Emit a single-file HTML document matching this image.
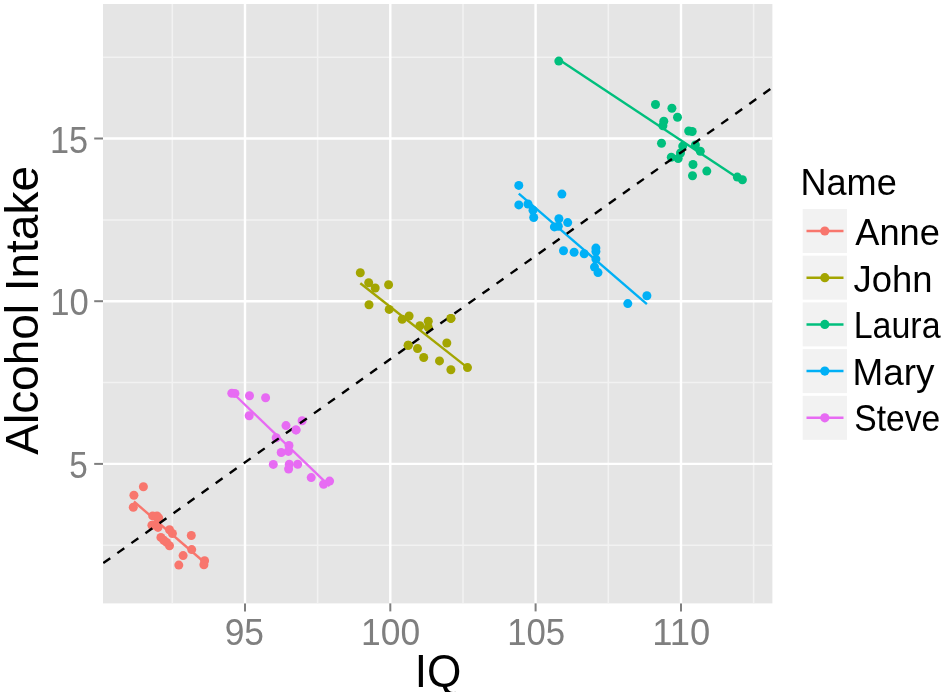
<!DOCTYPE html>
<html lang="en"><head><meta charset="utf-8"><title>Alcohol Intake vs IQ</title>
<style>html,body{margin:0;padding:0;background:#fff}svg{display:block}text{font-family:"Liberation Sans",sans-serif}</style></head><body>
<svg width="945" height="697" viewBox="0 0 945 697">
<rect width="945" height="697" fill="#fff"/>
<rect x="103.0" y="4.0" width="669.4" height="599.4" fill="#e5e5e5"/>
<defs><clipPath id="pc"><rect x="103.0" y="4.0" width="669.4" height="599.4"/></clipPath></defs>
<defs><clipPath id="qc"><rect x="400" y="640" width="80" height="52"/></clipPath></defs>
<g clip-path="url(#pc)">
<g stroke="#f2f2f2" stroke-width="1.5">
<line x1="172.3" x2="172.3" y1="4.0" y2="603.4"/>
<line x1="317.6" x2="317.6" y1="4.0" y2="603.4"/>
<line x1="463.0" x2="463.0" y1="4.0" y2="603.4"/>
<line x1="608.3" x2="608.3" y1="4.0" y2="603.4"/>
<line x1="753.6" x2="753.6" y1="4.0" y2="603.4"/>
<line y1="545.2" y2="545.2" x1="103.0" x2="772.4"/>
<line y1="382.5" y2="382.5" x1="103.0" x2="772.4"/>
<line y1="219.9" y2="219.9" x1="103.0" x2="772.4"/>
<line y1="57.2" y2="57.2" x1="103.0" x2="772.4"/>
</g>
<g stroke="#fff" stroke-width="2.4">
<line x1="245.0" x2="245.0" y1="4.0" y2="603.4"/>
<line x1="390.3" x2="390.3" y1="4.0" y2="603.4"/>
<line x1="535.6" x2="535.6" y1="4.0" y2="603.4"/>
<line x1="681.0" x2="681.0" y1="4.0" y2="603.4"/>
<line y1="463.9" y2="463.9" x1="103.0" x2="772.4"/>
<line y1="301.2" y2="301.2" x1="103.0" x2="772.4"/>
<line y1="138.5" y2="138.5" x1="103.0" x2="772.4"/>
</g>
<line x1="133.9" y1="501.5" x2="204.6" y2="562.5" stroke="#F8766D" stroke-width="2.4"/>
<g fill="#F8766D"><circle cx="143.4" cy="486.8" r="4.5"/><circle cx="133.9" cy="495.2" r="4.5"/><circle cx="133.3" cy="507.3" r="4.5"/><circle cx="152.7" cy="515.9" r="4.5"/><circle cx="157.0" cy="515.9" r="4.5"/><circle cx="158.7" cy="518" r="4.5"/><circle cx="151.9" cy="525.2" r="4.5"/><circle cx="155.9" cy="524.5" r="4.5"/><circle cx="158" cy="527.4" r="4.5"/><circle cx="169.5" cy="529.8" r="4.5"/><circle cx="172.4" cy="533.5" r="4.5"/><circle cx="160.9" cy="537.4" r="4.5"/><circle cx="163.8" cy="540.3" r="4.5"/><circle cx="166.6" cy="542.4" r="4.5"/><circle cx="169.5" cy="545.7" r="4.5"/><circle cx="191.3" cy="535.5" r="4.5"/><circle cx="191.7" cy="549.6" r="4.5"/><circle cx="183.1" cy="555.6" r="4.5"/><circle cx="178.8" cy="565.1" r="4.5"/><circle cx="204.6" cy="560.7" r="4.5"/><circle cx="203.9" cy="564.7" r="4.5"/></g>
<line x1="360.3" y1="283.3" x2="467.5" y2="367.6" stroke="#A3A500" stroke-width="2.4"/>
<g fill="#A3A500"><circle cx="360.3" cy="272.7" r="4.5"/><circle cx="368.7" cy="282.8" r="4.5"/><circle cx="375.2" cy="288.0" r="4.5"/><circle cx="388.6" cy="284.8" r="4.5"/><circle cx="369.0" cy="304.8" r="4.5"/><circle cx="389.2" cy="309.4" r="4.5"/><circle cx="402.2" cy="319.3" r="4.5"/><circle cx="409.1" cy="316.0" r="4.5"/><circle cx="419.9" cy="325.8" r="4.5"/><circle cx="428.3" cy="321.2" r="4.5"/><circle cx="428.3" cy="327.5" r="4.5"/><circle cx="450.9" cy="318.4" r="4.5"/><circle cx="408.2" cy="345.2" r="4.5"/><circle cx="417.5" cy="348.6" r="4.5"/><circle cx="423.7" cy="357.5" r="4.5"/><circle cx="446.8" cy="343.0" r="4.5"/><circle cx="439.5" cy="360.9" r="4.5"/><circle cx="450.9" cy="369.7" r="4.5"/><circle cx="467.5" cy="367.6" r="4.5"/></g>
<line x1="558.8" y1="59.5" x2="742.4" y2="181.0" stroke="#00BF7D" stroke-width="2.4"/>
<g fill="#00BF7D"><circle cx="558.8" cy="61.1" r="4.5"/><circle cx="655.5" cy="104.5" r="4.5"/><circle cx="671.9" cy="108.2" r="4.5"/><circle cx="677.5" cy="117.2" r="4.5"/><circle cx="663.8" cy="121.2" r="4.5"/><circle cx="662.9" cy="125.8" r="4.5"/><circle cx="688.7" cy="131.0" r="4.5"/><circle cx="692.2" cy="131.5" r="4.5"/><circle cx="661.5" cy="143.2" r="4.5"/><circle cx="682.7" cy="146.1" r="4.5"/><circle cx="695.4" cy="144.9" r="4.5"/><circle cx="680.5" cy="153.0" r="4.5"/><circle cx="700.3" cy="151.3" r="4.5"/><circle cx="671.3" cy="157.3" r="4.5"/><circle cx="678.2" cy="158.5" r="4.5"/><circle cx="693.0" cy="164.5" r="4.5"/><circle cx="692.5" cy="175.7" r="4.5"/><circle cx="706.8" cy="171.1" r="4.5"/><circle cx="737.3" cy="177.1" r="4.5"/><circle cx="742.4" cy="179.7" r="4.5"/></g>
<line x1="518.8" y1="193.6" x2="646.9" y2="304.2" stroke="#00B0F6" stroke-width="2.4"/>
<g fill="#00B0F6"><circle cx="518.8" cy="185.4" r="4.5"/><circle cx="518.8" cy="204.9" r="4.5"/><circle cx="528.0" cy="204.0" r="4.5"/><circle cx="533.0" cy="210.2" r="4.5"/><circle cx="533.7" cy="217.5" r="4.5"/><circle cx="561.9" cy="194.1" r="4.5"/><circle cx="558.9" cy="218.7" r="4.5"/><circle cx="567.7" cy="222.6" r="4.5"/><circle cx="554.4" cy="226.9" r="4.5"/><circle cx="558.3" cy="226.2" r="4.5"/><circle cx="563.5" cy="250.8" r="4.5"/><circle cx="574.1" cy="252.2" r="4.5"/><circle cx="584.2" cy="253.8" r="4.5"/><circle cx="595.9" cy="248.1" r="4.5"/><circle cx="595.9" cy="251.5" r="4.5"/><circle cx="595.9" cy="259.1" r="4.5"/><circle cx="594.5" cy="267.1" r="4.5"/><circle cx="598.0" cy="272.6" r="4.5"/><circle cx="627.8" cy="303.6" r="4.5"/><circle cx="646.9" cy="295.8" r="4.5"/></g>
<line x1="231.8" y1="392.0" x2="329.6" y2="486.2" stroke="#E76BF3" stroke-width="2.4"/>
<g fill="#E76BF3"><circle cx="231.8" cy="393.3" r="4.5"/><circle cx="234.9" cy="393.4" r="4.5"/><circle cx="249.5" cy="395.8" r="4.5"/><circle cx="265.6" cy="397.7" r="4.5"/><circle cx="249.2" cy="415.8" r="4.5"/><circle cx="286.0" cy="425.6" r="4.5"/><circle cx="302.1" cy="420.8" r="4.5"/><circle cx="296.0" cy="429.9" r="4.5"/><circle cx="276.2" cy="437.7" r="4.5"/><circle cx="289.0" cy="445.5" r="4.5"/><circle cx="288.4" cy="451.4" r="4.5"/><circle cx="281.2" cy="452.5" r="4.5"/><circle cx="273.3" cy="464.4" r="4.5"/><circle cx="289.3" cy="464.3" r="4.5"/><circle cx="297.7" cy="464.3" r="4.5"/><circle cx="288.6" cy="469.0" r="4.5"/><circle cx="311.2" cy="477.6" r="4.5"/><circle cx="323.6" cy="484.2" r="4.5"/><circle cx="329.6" cy="481.1" r="4.5"/></g>
<line x1="103.3" y1="563.1" x2="772.3" y2="87.6" stroke="#000" stroke-width="2.4" stroke-dasharray="8.5 8.73"/>
<circle cx="450.9" cy="318.4" r="4.5" fill="#A3A500"/>
<circle cx="408.2" cy="345.2" r="4.5" fill="#A3A500"/>
<circle cx="296.0" cy="429.9" r="4.5" fill="#E76BF3"/>
</g>
<g stroke="#7f7f7f" stroke-width="2">
<line x1="245.0" x2="245.0" y1="603.4" y2="611.4"/>
<line x1="390.3" x2="390.3" y1="603.4" y2="611.4"/>
<line x1="535.6" x2="535.6" y1="603.4" y2="611.4"/>
<line x1="681.0" x2="681.0" y1="603.4" y2="611.4"/>
<line y1="463.9" y2="463.9" x1="94.2" x2="103.0"/>
<line y1="301.2" y2="301.2" x1="94.2" x2="103.0"/>
<line y1="138.5" y2="138.5" x1="94.2" x2="103.0"/>
</g>
<text x="224.68" y="645.3" font-size="36" fill="#7f7f7f" textLength="39.34" lengthAdjust="spacingAndGlyphs">95</text>
<text x="361.09" y="645.3" font-size="36" fill="#7f7f7f" textLength="59.11" lengthAdjust="spacingAndGlyphs">100</text>
<text x="507.14" y="645.3" font-size="36" fill="#7f7f7f" textLength="58.08" lengthAdjust="spacingAndGlyphs">105</text>
<text x="652.32" y="645.3" font-size="36" fill="#7f7f7f" textLength="58.00" lengthAdjust="spacingAndGlyphs">110</text>
<text x="69.21" y="477.6" font-size="36" fill="#7f7f7f" textLength="18.50" lengthAdjust="spacingAndGlyphs">5</text>
<text x="50.25" y="314.9" font-size="36" fill="#7f7f7f" textLength="38.53" lengthAdjust="spacingAndGlyphs">10</text>
<text x="49.88" y="152.5" font-size="36" fill="#7f7f7f" textLength="38.09" lengthAdjust="spacingAndGlyphs">15</text>
<text x="414.71" y="687.0" font-size="47" fill="#000" textLength="46.62" lengthAdjust="spacingAndGlyphs" clip-path="url(#qc)">IQ</text>
<text x="-0.24" y="0.0" font-size="47" fill="#000" textLength="288.70" lengthAdjust="spacingAndGlyphs" transform="translate(38.4,454.5) rotate(-90)">Alcohol Intake</text>
<text x="800.39" y="195.1" font-size="36" fill="#000" textLength="96.35" lengthAdjust="spacingAndGlyphs">Name</text>
<text x="855.30" y="244.7" font-size="36" fill="#000" textLength="84.59" lengthAdjust="spacingAndGlyphs">Anne</text>
<text x="853.64" y="291.6" font-size="36" fill="#000" textLength="78.91" lengthAdjust="spacingAndGlyphs">John</text>
<text x="853.67" y="338.4" font-size="36" fill="#000" textLength="86.91" lengthAdjust="spacingAndGlyphs">Laura</text>
<text x="852.53" y="385.1" font-size="36" fill="#000" textLength="81.97" lengthAdjust="spacingAndGlyphs">Mary</text>
<text x="854.37" y="431.3" font-size="36" fill="#000" textLength="85.89" lengthAdjust="spacingAndGlyphs">Steve</text>
<rect x="802.7" y="209.0" width="44.3" height="44" fill="#f2f2f2"/>
<line x1="806.5" x2="843.5" y1="231.0" y2="231.0" stroke="#F8766D" stroke-width="2.5"/>
<circle cx="824.8" cy="231.0" r="4.6" fill="#F8766D"/>
<rect x="802.7" y="255.7" width="44.3" height="44" fill="#f2f2f2"/>
<line x1="806.5" x2="843.5" y1="277.7" y2="277.7" stroke="#A3A500" stroke-width="2.5"/>
<circle cx="824.8" cy="277.7" r="4.6" fill="#A3A500"/>
<rect x="802.7" y="302.4" width="44.3" height="44" fill="#f2f2f2"/>
<line x1="806.5" x2="843.5" y1="324.4" y2="324.4" stroke="#00BF7D" stroke-width="2.5"/>
<circle cx="824.8" cy="324.4" r="4.6" fill="#00BF7D"/>
<rect x="802.7" y="349.1" width="44.3" height="44" fill="#f2f2f2"/>
<line x1="806.5" x2="843.5" y1="371.1" y2="371.1" stroke="#00B0F6" stroke-width="2.5"/>
<circle cx="824.8" cy="371.1" r="4.6" fill="#00B0F6"/>
<rect x="802.7" y="395.8" width="44.3" height="44" fill="#f2f2f2"/>
<line x1="806.5" x2="843.5" y1="417.8" y2="417.8" stroke="#E76BF3" stroke-width="2.5"/>
<circle cx="824.8" cy="417.8" r="4.6" fill="#E76BF3"/>
</svg></body></html>
